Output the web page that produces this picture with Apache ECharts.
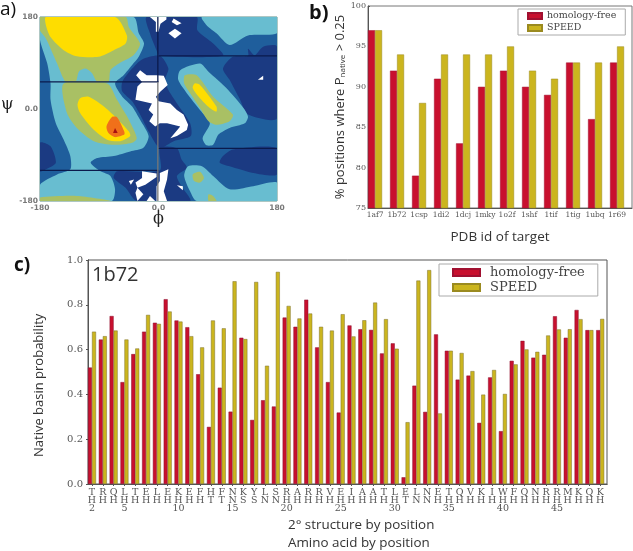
<!DOCTYPE html>
<html>
<head>
<meta charset="utf-8">
<style>
  html, body { margin: 0; padding: 0; background: #fff; }
  #chart { width: 633px; height: 551px; }
</style>
<script src="https://cdn.jsdelivr.net/npm/echarts@6/dist/echarts.min.js"></script>
</head>
<body>
<div id="chart"></div>
<script>
// panel a: contour outlines, as [phi, psi] in degrees
const blueArea = [[[-180, 180], [180, 180], [180, -180], [-180, -180]]];
const navyAreas = [
  [[-18, 180], [58, 180], [59, 154], [83, 128], [98, 104], [2, 104], [-3, 115], [-13, 148]],
  [[2, 104], [-25, 97], [-40, 79], [-55, 53], [-55, 34], [-40, 15], [-28, -11], [-15, -44], [2, -76], [23, -63], [49, -53], [48, -28], [28, 11], [15, 37], [10, 57], [15, 79]],
  [[136, 118], [146, 105], [159, 122], [180, 122], [180, -18], [136, -11], [124, 18], [108, 57], [98, 79], [113, 102], [136, 104]],
  [[98, -92], [113, -79], [180, -77], [180, -128], [144, -125], [108, -112], [93, -105]],
  [[2, -76], [28, -77], [35, -99], [43, -115], [28, -131], [35, -151], [48, -180], [-33, -180], [-50, -154], [-68, -135], [-63, -122], [2, -120]],
  [[-180, -66], [-164, -73], [-156, -105], [-171, -118], [-180, -122]],
];
const cyanAreas = [
  [[-180, 180], [-38, 180], [-30, 148], [-22, 128], [-30, 102], [-40, 86], [-53, 66], [-66, 50], [-55, 24], [-40, 5], [-28, -21], [-15, -53], [-23, -76], [-43, -83], [-68, -92], [-93, -96], [-103, -105], [-88, -122], [-73, -131], [-66, -157], [-71, -180], [-180, -180], [-180, -148], [-154, -128], [-134, -118], [-134, -92], [-144, -60], [-156, -28], [-164, 18], [-164, 50], [-169, 89], [-180, 135]],
  [[66, 180], [180, 180], [180, 148], [136, 144], [108, 125], [88, 148], [73, 164]],
  [[33, 76], [63, 89], [76, 73], [103, 41], [129, 2], [136, -15], [131, -28], [108, -37], [91, -50], [83, -70], [73, -71], [67, -57], [78, -28], [63, -2], [43, 31], [30, 57]],
  [[45, -112], [66, -112], [83, -131], [108, -157], [144, -151], [180, -144], [180, -180], [58, -180], [48, -161], [39, -131]],
];
const greenAreas = [
  [[-180, 180], [-50, 180], [-45, 160], [-28, 128], [-38, 105], [-60, 89], [-73, 76], [-76, 53], [-93, 53], [-101, 70], [-111, 79], [-121, 73], [-126, 53], [-141, 53], [-154, 89], [-171, 138], [-180, 154]],
  [[-144, 50], [-78, 50], [-63, 18], [-45, -21], [-33, -57], [-40, -66], [-68, -70], [-98, -63], [-124, -37], [-139, -8]],
  [[40, 66], [58, 66], [83, 24], [113, -11], [108, -24], [88, -31], [76, -24], [63, 2], [48, 31], [39, 50]],
  [[52, -128], [63, -123], [69, -135], [63, -144], [54, -141]],
  [[-180, -173], [-124, -170], [-73, -180], [-180, -180]],
  [[76, -167], [83, -170], [88, -180], [76, -180]],
];
const yellowAreas = [
  [[-171, 180], [-66, 180], [-48, 144], [-50, 128], [-68, 115], [-91, 102], [-124, 103], [-144, 115], [-164, 141], [-171, 164]],
  [[-119, 21], [-106, 24], [-83, 5], [-66, -15], [-45, -44], [-43, -53], [-58, -63], [-78, -60], [-101, -37], [-119, -8], [-123, 8]],
  [[55, 50], [63, 47], [88, 5], [88, -5], [78, 2], [63, 21], [52, 41]],
];
const orangeAreas = [
  [[-71, -16], [-63, -16], [-52, -44], [-52, -50], [-66, -55], [-76, -47], [-79, -34]],
];
const redAreas = [
  [[-66, -37], [-62, -47], [-69, -47]],
];
const emptyAreas = [
  [[-13, 180], [12, 180], [12, 175], [3, 167], [0, 151], [-4, 151], [-4, 170]],
  [[23, 177], [28, 173], [35, 168], [28, 164], [20, 170]],
  [[25, 157], [35, 148], [25, 138], [15, 148]],
  [[-28, 76], [-18, 66], [-3, 66], [8, 65], [14, 47], [3, 34], [-4, 24], [0, 15], [18, 11], [28, -2], [38, -11], [45, -31], [43, -41], [28, -53], [18, -57], [33, -34], [13, -28], [2, -28], [-5, -34], [-14, -24], [-8, -11], [-15, -2], [-10, 11], [-35, 18], [-32, 44], [-25, 53], [-34, 66]],
  [[151, 57], [159, 65], [159, 57]],
  [[-25, -122], [-3, -126], [-3, -133], [-20, -148], [-32, -154], [-35, -144], [-25, -135]],
  [[-32, -154], [-23, -167], [-32, -180], [-35, -164]],
  [[-13, -170], [-5, -180], [-18, -180]],
  [[2, -125], [15, -118], [13, -138], [8, -161], [13, -180], [-3, -180], [-3, -151], [2, -141]],
  [[-45, -141], [-37, -138], [-42, -148]],
  [[28, -149], [37, -151], [37, -159]],
];
// phi/psi region boundaries
const blackLines = [
  [[-180, 53], [0, 53]],
  [[-180, -120], [0, -120]],
  [[0, 104], [180, 104]],
  [[0, -77], [180, -77]],
  [[-1, 180], [-1, 53]],
];
const greyLines = [
  [[-1, 53], [-1, -180]],
];

// panel b
const targets = ["1af7", "1b72", "1csp", "1di2", "1dcj", "1mky", "1o2f", "1shf", "1tif", "1tig", "1ubq", "1r69"];
const targetFree = [97, 92, 79, 91, 83, 90, 92, 90, 89, 93, 86, 93];
const targetSpeed = [97, 94, 88, 94, 94, 94, 95, 92, 91, 93, 93, 95];

// panel c
const residues = "T R Q L T E L E K E F H F N K Y L S R A R R V E I A A T L E L N E T Q V K I W F Q N R R M K Q K".split(" ");
const structure = "H H H H H H H H H H H T T N S S N N H H H H H H H H H H H T N N H H H H H H H H H H H H H H H H".split(" ");
const firstPosition = 2;
const positionFree = [0.52, 0.645, 0.75, 0.455, 0.58, 0.68, 0.72, 0.825, 0.73, 0.70, 0.49, 0.255, 0.43, 0.323, 0.653, 0.286,
  0.374, 0.346, 0.743, 0.702, 0.823, 0.61, 0.455, 0.319, 0.708, 0.691, 0.688, 0.583, 0.628, 0.03, 0.439, 0.322,
  0.668, 0.595, 0.466, 0.484, 0.273, 0.476, 0.236, 0.55, 0.639, 0.564, 0.577, 0.749, 0.653, 0.777, 0.687, 0.687];
const positionSpeed = [0.68, 0.66, 0.685, 0.645, 0.605, 0.755, 0.715, 0.77, 0.725, 0.66, 0.61, 0.73, 0.695, 0.905, 0.647, 0.902,
  0.528, 0.947, 0.795, 0.739, 0.761, 0.702, 0.685, 0.758, 0.659, 0.731, 0.81, 0.736, 0.604, 0.276, 0.908, 0.955,
  0.315, 0.595, 0.585, 0.504, 0.399, 0.509, 0.402, 0.534, 0.601, 0.59, 0.663, 0.69, 0.691, 0.736, 0.687, 0.737];

const RED = "#c8102e";
const YELLOW = "#cbb51e";
const SERIF = "DejaVu Serif";
const SANS = "Open Sans";

// painted in this order, each level on top of the one before
const contourLayers = [
  { areas: blueArea, color: "#1f5e9c", smooth: 0 },
  { areas: navyAreas, color: "#1b3a82", smooth: 0.25 },
  { areas: cyanAreas, color: "#68bdd0", smooth: 0.25 },
  { areas: greenAreas, color: "#a9c064", smooth: 0.25 },
  { areas: yellowAreas, color: "#fedd00", smooth: 0.25 },
  { areas: orangeAreas, color: "#f0701a", smooth: 0.25 },
  { areas: redAreas, color: "#a81010", smooth: 0 },
  { areas: emptyAreas, color: "#fff", smooth: 0 },
];
const contourShapes = [];
contourLayers.forEach((layer) => {
  layer.areas.forEach((points) => contourShapes.push({ points: points, color: layer.color, smooth: layer.smooth }));
});

// bars start at the left of each slot, so the pair centre sits off the slot centre
const targetShift = 0.32;
const positionShift = 0.37;
const targetTicks = targets.map((t, i) => i + targetShift);
const positionTicks = residues.map((t, i) => i + positionShift);

function lineSeries(seg, color, width) {
  return {
    type: "line", xAxisIndex: 0, yAxisIndex: 0, data: seg, symbol: "none", silent: true, z: 5,
    lineStyle: { color: color, width: width },
  };
}

function barSeries(name, xs, values, color, edge, width, x, y) {
  return {
    name: name, type: "bar", xAxisIndex: x, yAxisIndex: y, barWidth: width, barGap: 0,
    data: values.map((v, i) => [xs[i], v]),
    itemStyle: { color: color, borderColor: edge, borderWidth: 0.5 },
  };
}

function legendAt(left, top, fontSize, itemWidth, itemHeight, gap, pad, textPad) {
  return {
    left: left, top: top, orient: "vertical", icon: "rect",
    data: ["homology-free", "SPEED"],
    itemWidth: itemWidth, itemHeight: itemHeight, itemGap: gap, padding: [2, pad, 2, pad],
    borderColor: "#aaa", borderWidth: 1, selectedMode: false,
    textStyle: { fontFamily: SERIF, fontSize: fontSize, color: "#444", padding: [0, 0, 0, textPad] },
  };
}

function plainText(text, x, y, size, opts) {
  return {
    type: "text", x: x, y: y,
    style: Object.assign({ text: text, fontFamily: SANS, fontSize: size, fill: "#333", textVerticalAlign: "middle" }, opts || {}),
  };
}

const ramaLabel = { fontFamily: "DejaVu Sans", fontSize: 7.5, fontWeight: "bold", color: "#777" };
const ramaFormat = (v) => (v === 0 ? "0.0" : String(v));
const frame = { lineStyle: { color: "#555", width: 1 } };

const myChart = echarts.init(document.getElementById("chart"), null, { renderer: "canvas" });
myChart.setOption({
  animation: false,
  backgroundColor: "#fff",
  grid: [
    { left: 40, top: 17, width: 237, height: 184, show: true, borderColor: "#5d8f88", borderWidth: 1 },
    { left: 368, top: 6, width: 264, height: 202, show: true, borderColor: "#777", borderWidth: 1 },
    { left: 88, top: 260, width: 519, height: 224, show: true, borderColor: "#555", borderWidth: 1 },
  ],
  legend: [
    legendAt(518, 9, 9.5, 14, 6, 2, 9, 0),
    legendAt(439, 264, 13, 27, 7, 2, 13, 5),
  ],
  xAxis: [
    {
      type: "value", gridIndex: 0, min: -180, max: 180, interval: 180, splitLine: { show: false },
      axisLine: { show: false }, axisTick: { show: false },
      axisLabel: Object.assign({ margin: 3, formatter: ramaFormat }, ramaLabel),
    },
    {
      type: "value", gridIndex: 1, min: 0, max: targets.length, splitLine: { show: false },
      axisLine: frame, axisTick: { show: false },
      axisLabel: {
        customValues: targetTicks, margin: 3, fontFamily: SERIF, fontSize: 7.5, color: "#555",
        formatter: (v) => targets[Math.round(v - targetShift)],
      },
      name: "PDB id of target", nameLocation: "middle", nameGap: 22,
      nameTextStyle: { fontFamily: SANS, fontSize: 13.5, color: "#333" },
    },
    {
      type: "value", gridIndex: 2, min: 0, max: residues.length, splitLine: { show: false },
      axisLine: frame, axisTick: { show: false },
      axisLabel: {
        customValues: positionTicks, margin: 5, fontFamily: SERIF, fontSize: 9.5, lineHeight: 8, color: "#555",
        formatter: (v) => {
          const i = Math.round(v - positionShift);
          const pos = i + firstPosition;
          return residues[i] + "\n" + structure[i] + (pos % 5 === 0 || pos === firstPosition ? "\n" + pos : "\n ");
        },
      },
    },
    {
      type: "value", gridIndex: 2, position: "top", min: 0, max: residues.length, splitLine: { show: false },
      axisLine: frame, axisLabel: { show: false },
      axisTick: { customValues: positionTicks, inside: true, length: 2, lineStyle: { color: "#555" } },
    },
  ],
  yAxis: [
    {
      type: "value", gridIndex: 0, min: -180, max: 180, interval: 180, splitLine: { show: false },
      axisLine: { show: false }, axisTick: { show: false },
      axisLabel: Object.assign({ margin: 2, formatter: ramaFormat }, ramaLabel),
    },
    {
      type: "value", gridIndex: 1, min: 75, max: 100, interval: 5, splitLine: { show: false },
      axisLine: frame, axisTick: { inside: true, length: 2, lineStyle: { color: "#555" } },
      axisLabel: { margin: 2, fontFamily: SERIF, fontSize: 8, color: "#555" },
      name: "% positions where P{sub|native} > 0.25", nameLocation: "middle", nameGap: 21,
      nameTextStyle: {
        fontFamily: SANS, fontSize: 13, color: "#333",
        rich: { sub: { fontFamily: SANS, fontSize: 8, color: "#333", padding: [0, 0, -5, 0] } },
      },
    },
    {
      type: "value", gridIndex: 2, min: 0, max: 1, interval: 0.2, splitLine: { show: false },
      axisLine: frame, axisTick: { show: false },
      axisLabel: { margin: 5, fontFamily: SERIF, fontSize: 10, color: "#555", formatter: (v) => v.toFixed(1) },
    },
    {
      type: "value", gridIndex: 2, position: "right", min: 0, max: 1, interval: 0.2, splitLine: { show: false },
      axisLine: frame, axisLabel: { show: false },
      axisTick: { inside: true, length: 2, lineStyle: { color: "#555" } },
    },
  ],
  series: [
    {
      type: "custom", xAxisIndex: 0, yAxisIndex: 0, silent: true, clip: true,
      data: contourShapes.map((s, i) => [i]),
      encode: { x: [], y: [] },
      renderItem: (params, api) => {
        const item = contourShapes[api.value(0)];
        return {
          type: "polygon",
          shape: { points: item.points.map((p) => api.coord(p)), smooth: item.smooth },
          style: { fill: item.color },
        };
      },
    },
    ...blackLines.map((seg) => lineSeries(seg, "#0b1a4c", 1.3)),
    ...greyLines.map((seg) => lineSeries(seg, "#777", 1.3)),
    barSeries("homology-free", targetTicks, targetFree, RED, "#a01030", 7, 1, 1),
    barSeries("SPEED", targetTicks, targetSpeed, YELLOW, "#9a8a20", 7, 1, 1),
    barSeries("homology-free", positionTicks, positionFree, RED, "#8a1030", 4, 2, 2),
    barSeries("SPEED", positionTicks, positionSpeed, YELLOW, "#7d7030", 4, 2, 2),
  ],
  graphic: [
    plainText("a)", 0, 10, 19, { fill: "#111" }),
    plainText("b)", 309, 13, 20, { fill: "#111", fontWeight: "bold" }),
    plainText("c)", 14, 266, 19, { fill: "#111", fontWeight: "bold" }),
    plainText("ψ", 1, 105, 16, { fontFamily: SERIF, fill: "#222" }),
    plainText("ϕ", 153, 219, 16, { fontFamily: SERIF, fill: "#222" }),
    plainText("1b72", 92, 275, 20, { fill: "#333" }),
    Object.assign(plainText("Native basin probability", 33, 457, 13, { fill: "#333", textVerticalAlign: "top" }), { rotation: Math.PI / 2 }),
    plainText("2° structure by position", 288, 525, 13.4, { fill: "#333" }),
    plainText("Amino acid by position", 288, 543, 13.4, { fill: "#333" }),
  ],
});
window.onresize = myChart.resize;
</script>
</body>
</html>
